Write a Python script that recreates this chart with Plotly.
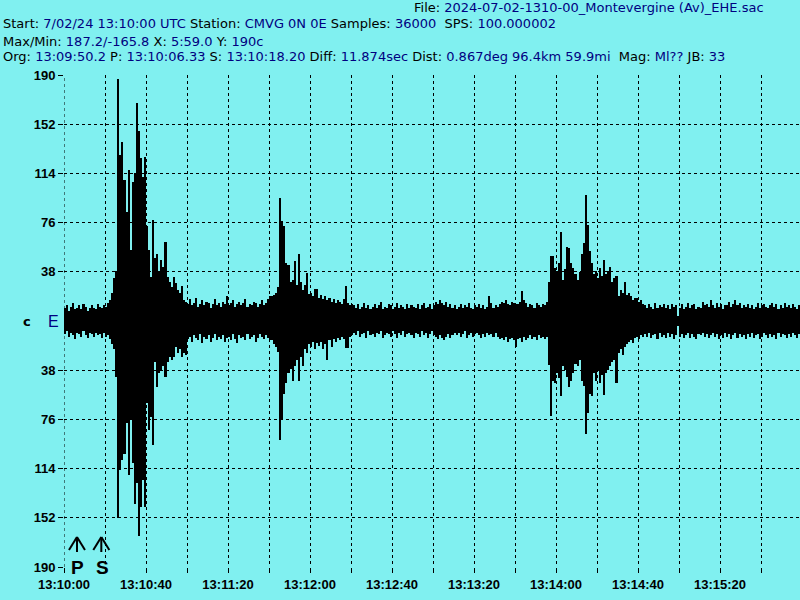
import numpy as np
import plotly.graph_objects as go

# ---------------- data (envelope of trace per 1 s column, counts) ----------------
# segment start times (s after 13:10:00)
pre_start, ev1_start, gap1_start, ev2_start, gap2_start, ev3_start, post_start = 0, 22, 59, 101, 141, 236, 283

pre_hi = [10, 12, 8, 11, 14, 9, 10, 12, 9, 13, 11, 8, 10, 12, 10, 9, 13, 11, 10, 12, 11, 14]
pre_lo = [-10, -8, -12, -9, -11, -14, -9, -10, -12, -8, -11, -13, -9, -10, -12, -9, -11, -10, -13, -9, -12, -11]

ev1_hi = [16, 22, 33, 39, 187, 128, 138, 109, 84, 117, 55, 107, 114, 168, 147, 126, 111, 127, 73, 55,
          34, 78, 49, 52, 39, 47, 42, 61, 34, 30, 26, 34, 29, 24, 22, 27, 16]
ev1_lo = [-14, -18, -22, -43, -152, -115, -107, -103, -79, -119, -76, -110, -141, -125, -166, -144, -123, -144, -63, -84,
          -74, -96, -32, -51, -40, -38, -35, -43, -32, -28, -30, -28, -20, -25, -22, -28, -25]

gap1_hi = [15, 13, 17, 12, 14, 18, 11, 13, 16, 12, 15, 14, 10, 13, 17, 12, 14, 11, 15, 13,
           19, 12, 14, 16, 11, 13, 15, 12, 14, 17, 11, 13, 12, 15, 14, 11, 13, 16, 12, 14, 17, 19]
gap1_lo = [-26, -14, -12, -16, -11, -13, -15, -10, -17, -12, -14, -11, -16, -13, -10, -15, -12, -14, -11, -16,
           -13, -12, -15, -10, -14, -17, -11, -13, -12, -15, -10, -14, -12, -11, -16, -13, -10, -12, -14, -11, -13, -15]

ev2_hi = [19, 20, 22, 26, 95, 77, 73, 45, 43, 30, 32, 46, 28, 52, 30, 24, 28, 37, 21, 22,
          19, 25, 25, 18, 20, 17, 19, 16, 18, 15, 17, 14, 16, 15, 13, 17, 27, 14, 12, 13]
ev2_lo = [-15, -18, -20, -24, -92, -76, -56, -48, -40, -37, -46, -35, -30, -46, -28, -35, -22, -25, -18, -20,
          -16, -22, -17, -19, -16, -22, -18, -30, -15, -20, -14, -16, -13, -15, -12, -14, -21, -21, -12, -11]

gap2_hi = [12, 10, 13, 9, 11, 14, 10, 12, 9, 11,
           13, 10, 12, 15, 9, 11, 10, 13, 12, 9,
           11, 14, 10, 12, 11, 9, 13, 10, 12, 11,
           10, 13, 9, 12, 14, 10, 11, 13, 9, 12,
           15, 13, 16, 14, 12, 15, 11, 13, 10, 12,
           9, 11, 13, 10, 12, 11, 14, 10, 9, 12,
           11, 13, 10, 12, 9, 11, 19, 14, 10, 12,
           11, 13, 15, 14, 16, 13, 12, 15, 14, 13,
           13, 15, 23, 16, 14, 11, 13, 12, 10, 14,
           12, 11, 13, 12, 15]
gap2_lo = [-9, -11, -8, -12, -10, -9, -13, -8, -11, -10,
           -12, -9, -10, -8, -13, -11, -9, -10, -12, -8,
           -10, -13, -9, -11, -8, -12, -10, -9, -11, -13,
           -9, -10, -12, -8, -11, -9, -13, -10, -8, -11,
           -12, -14, -11, -13, -15, -12, -10, -13, -11, -9,
           -11, -9, -12, -10, -8, -13, -11, -9, -12, -10,
           -9, -11, -13, -10, -12, -9, -11, -10, -12, -9,
           -12, -14, -13, -15, -12, -16, -14, -13, -15, -20,
           -14, -13, -16, -12, -15, -13, -11, -14, -12, -15,
           -11, -13, -12, -14, -12]

ev3_hi = [30, 50, 50, 41, 38, 45, 69, 32, 40, 57, 56, 45, 41, 36, 32, 38, 52, 60, 97, 74,
          54, 45, 36, 39, 33, 41, 35, 47, 36, 39, 42, 30, 33, 35, 19, 24, 22, 30, 20, 22,
          19, 16, 18, 18, 15, 16, 13]
ev3_lo = [-34, -73, -46, -48, -40, -44, -58, -35, -38, -43, -51, -46, -40, -33, -35, -30, -46, -50, -87, -71,
          -56, -58, -40, -46, -38, -48, -42, -57, -40, -38, -35, -32, -30, -48, -25, -22, -26, -20, -18, -16,
          -15, -17, -13, -12, -14, -11, -12]

post_hi = [12, 10, 13, 11, 9, 14, 10, 12, 11, 13,
           10, 12, 9, 13, 11, 12, 4, 10, 13, 9,
           11, 14, 10, 12, 13, 9, 11, 10, 15, 12,
           13, 11, 16, 12, 10, 14, 11, 13, 9, 12,
           12, 15, 11, 13, 16, 12, 14, 10, 12, 11,
           13, 10, 12, 9, 11, 14, 10, 12, 13, 11,
           10, 12, 14, 11, 13, 9, 12, 10, 14, 11,
           12, 10, 13, 11, 9, 12]
post_lo = [-10, -12, -9, -13, -11, -10, -14, -9, -12, -11,
           -13, -9, -12, -10, -14, -11, -4, -12, -10, -13,
           -11, -9, -13, -10, -12, -14, -10, -11, -9, -12,
           -10, -13, -11, -9, -12, -10, -14, -11, -13, -9,
           -12, -10, -14, -11, -9, -13, -10, -12, -11, -14,
           -10, -12, -9, -13, -11, -10, -14, -12, -9, -11,
           -13, -10, -12, -11, -14, -9, -12, -10, -11, -13,
           -10, -12, -9, -11, -13, -10]

x_tick_secs = list(range(0, 341, 20))
x_tick_labels = {0: "13:10:00", 40: "13:10:40", 80: "13:11:20", 120: "13:12:00", 160: "13:12:40",
                 200: "13:13:20", 240: "13:14:00", 280: "13:14:40", 320: "13:15:20"}
y_ticks = [-190, -152, -114, -76, -38, 38, 76, 114, 152, 190]
p_time = 6.33
s_time = 18.20
x_span = 359.0
y_span = 190

# ---------------- build ----------------
segments = [(pre_start, pre_hi, pre_lo), (ev1_start, ev1_hi, ev1_lo), (gap1_start, gap1_hi, gap1_lo),
            (ev2_start, ev2_hi, ev2_lo), (gap2_start, gap2_hi, gap2_lo), (ev3_start, ev3_hi, ev3_lo),
            (post_start, post_hi, post_lo)]
t, hi, lo = [], [], []
for st, h, l in segments:
    t += [st + i + 0.5 for i in range(len(h))]
    hi += h
    lo += l
t = np.array(t); hi = np.array(hi, float); lo = np.array(lo, float)

BG = "rgb(128,240,240)"
NAVY = "#000080"

fig = go.Figure(go.Bar(x=t, y=hi - lo, base=lo, width=1.0,
                       marker=dict(color="black", line=dict(width=0)), hoverinfo="skip"))

L, R, T, B = 64, 0, 75, 33
W, H = 800, 600
pw, ph = W - L - R, H - T - B

tickfont = dict(family="Liberation Sans", size=13, color="black", weight="bold")
fig.update_layout(
    width=W, height=H, margin=dict(l=L, r=R, t=T, b=B, autoexpand=False),
    paper_bgcolor=BG, plot_bgcolor=BG, bargap=0, showlegend=False,
    xaxis=dict(range=[0, x_span], tickmode="array", tickvals=x_tick_secs,
               ticktext=[x_tick_labels.get(s, "") for s in x_tick_secs], automargin=False,
               showgrid=True, gridcolor="black", gridwidth=1, griddash="3px,3px",
               zeroline=False, showline=False, ticks="outside", ticklen=5, tickcolor="black",
               tickfont=tickfont),
    yaxis=dict(range=[-y_span, y_span], tickmode="array", tickvals=y_ticks,
               ticktext=[str(abs(v)) for v in y_ticks], automargin=False,
               showgrid=True, gridcolor="black", gridwidth=1, griddash="3px,3px",
               zeroline=False, showline=False, ticks="outside", ticklen=5, tickcolor="black",
               tickfont=tickfont),
)

# left edge grid line (t = 0)
fig.add_shape(type="line", xref="x", yref="y", x0=0, x1=0, y0=-y_span, y1=y_span, layer="below",
              line=dict(color="black", width=1, dash="3px,3px"))

def px_x(px):
    return (px - L) / pw

def px_y(py):
    return (H - B - py) / ph

def seg(lbl, val):
    return f"{lbl} <span style='color:{NAVY}'>{val}</span>"

header = [
    (412, 8, seg("File:", "2024-07-02-1310-00_Montevergine (Av)_EHE.sac")),
    (1, 24, " ".join([seg("Start:", "7/02/24 13:10:00 UTC"), seg("Station:", "CMVG 0N 0E"),
                      seg("Samples:", "36000"), "&nbsp;" + seg("SPS:", "100.000002")])),
    (1, 41, " ".join([seg("Max/Min:", "187.2/-165.8"), seg("X:", "5:59.0"), seg("Y:", "190c")])),
    (1, 57, " ".join([seg("Org:", "13:09:50.2"), seg("P:", "13:10:06.33"), seg("S:", "13:10:18.20"),
                      seg("Diff:", "11.874sec"), seg("Dist:", "0.867deg 96.4km 59.9mi"),
                      "&nbsp;" + seg("Mag:", "Ml??"), seg("JB:", "33")])),
]
for px, py, txt in header:
    fig.add_annotation(x=px_x(px), y=px_y(py), xref="paper", yref="paper", text=txt,
                       showarrow=False, xanchor="left", yanchor="middle",
                       font=dict(family="DejaVu Sans", size=13, color="black"))

# channel label at center
fig.add_annotation(x=px_x(27), y=0, xref="paper", yref="y", text="c", showarrow=False,
                   xanchor="center", yanchor="middle",
                   font=dict(family="DejaVu Sans", size=13, color="black", weight="bold"))
fig.add_annotation(x=px_x(53), y=0, xref="paper", yref="y", text="E", showarrow=False,
                   xanchor="center", yanchor="middle",
                   font=dict(family="Liberation Sans", size=16, color=NAVY))

# P and S markers
for tm, name in [(p_time, "P"), (s_time, "S")]:
    fig.add_annotation(x=tm, y=-y_span, xref="x", yref="y", text=name, showarrow=False,
                       xanchor="center", yanchor="middle", xshift=1, yshift=0,
                       font=dict(family="Liberation Sans", size=19, color="black", weight="bold"))
    for (x0, y0, x1, y1) in [(0, 15, 0, 30), (-8, 17, 0, 30), (8, 17, 0, 30)]:
        fig.add_shape(type="line", xref="x", yref="y", xsizemode="pixel", ysizemode="pixel",
                      xanchor=tm, yanchor=-y_span, x0=x0, y0=y0, x1=x1, y1=y1,
                      line=dict(color="black", width=2))

fig.write_html("out.html", config={"displayModeBar": False},
               post_script="document.body.style.margin='0px';document.body.style.background='rgb(128,240,240)';")
